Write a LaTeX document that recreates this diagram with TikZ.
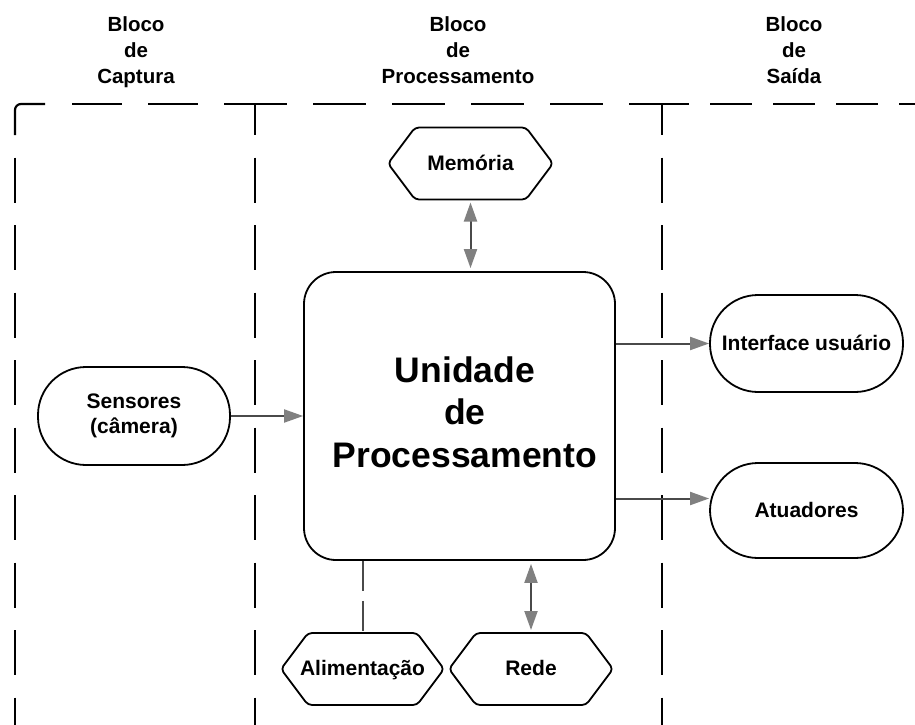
\documentclass[tikz,border=0pt]{standalone}
\usepackage{fontspec}
\setmainfont{Liberation Sans}
\usetikzlibrary{arrows.meta,calc}

\definecolor{linkgray}{HTML}{4A4A4A}
\definecolor{headgray}{HTML}{808080}

% hexagonal frame around a (borderless) node
\newcommand\hexframe[1]{%
  \draw[hexline] (#1.west) -- ($(#1.north west)+(27,0)$) -- ($(#1.north east)+(-27,0)$)
    -- (#1.east) -- ($(#1.south east)+(-27,0)$) -- ($(#1.south west)+(27,0)$) -- cycle;}

\tikzset{
  region/.style={line width=2.2pt, black},
  header/.style={font=\bfseries\fontsize{20.5}{26}\selectfont, align=center, anchor=north, inner sep=0pt},
  boxtext/.style={font=\bfseries\fontsize{21}{25}\selectfont},
  oneline/.style={text height=15.5pt, text depth=2.5pt},
  stadium/.style={draw, line width=1.8pt, rounded corners=48pt, minimum width=193pt,
    minimum height=97pt, inner sep=0pt, boxtext},
  hexslot/.style={minimum height=72pt, inner sep=0pt, outer sep=0pt, boxtext, oneline},
  hexline/.style={draw, line width=1.8pt, rounded corners=4pt, line join=round},
  link/.style={draw=linkgray, line width=2pt},
  >={Triangle[length=19pt,width=13pt,color=headgray]},
}

\begin{document}
\begin{tikzpicture}[x=1pt, y=-1pt]
  \fill[white] (0,0) rectangle (915,725);
  \useasboundingbox (0,0) rectangle (915,725);

  % column headers
  \node[header] (hcap) at (136,16.5) {Bloco\\de\\Captura};
  \node[header] (hproc) at (458,16.5) {Bloco\\de\\Processamento};
  \node[header] (hsai) at (794,16.5) {Bloco\\de\\Saída};

  % block boundaries
  \draw[region, rounded corners=6pt] (15,135) -- (15,104) -- (45,104);
  \draw[region, dash pattern=on 45pt off 22.5pt] (15,157.5) -- (15,725);
  \draw[region, dash pattern=on 45pt off 22.5pt, dash phase=14pt] (255,104) -- (255,725);
  \draw[region, dash pattern=on 45pt off 22.5pt, dash phase=14pt] (662,104) -- (662,725);
  \draw[region, dash pattern=on 50pt off 26pt] (72,104) -- (255,104);
  \draw[region, dash pattern=on 53pt off 26pt, dash phase=21pt] (255,104) -- (662,104);
  \draw[region, dash pattern=on 42pt off 21pt, dash phase=15pt] (662,104) -- (915,104);

  % central processing unit
  \node[draw, line width=1.8pt, rounded corners=32pt, minimum width=311pt, minimum height=288pt,
        inner sep=0pt, font=\bfseries\fontsize{35.5}{42.5}\selectfont] (unit) at (459.5,416)
       {\hspace*{11pt}\raisebox{4pt}{\begin{tabular}{@{}c@{}}Unidade\\de\\Processamento\end{tabular}}};

  % peripherals
  \node[hexslot, minimum width=165pt] (mem) at (470.5,163.5) {Memória};
  \hexframe{mem}
  \node[hexslot, minimum width=163pt] (alim) at (362.5,669) {Alimentação};
  \hexframe{alim}
  \node[hexslot, minimum width=164pt] (rede) at (531,669) {Rede};
  \hexframe{rede}

  \node[stadium, minimum width=192pt, minimum height=98pt] (sens) at (134,416)
       {\begin{tabular}{@{}c@{}}Sensores\\(câmera)\end{tabular}};
  \node[stadium, oneline] (iface) at (806.5,343.5) {Interface usuário};
  \node[stadium, oneline, minimum height=95pt] (atu) at (806.5,510.5) {Atuadores};

  % connections
  \draw[link, ->] (sens.east) -- (sens.east -| unit.west);
  \draw[link, ->] (iface.west -| unit.east) -- (iface.west);
  \draw[link, ->] ([yshift=12pt]atu.west -| unit.east) -- ([yshift=12pt]atu.west);
  \draw[link, <->, shorten <=3pt, shorten >=3pt] (mem.south) -- (mem.south |- unit.north);
  \draw[link, <->, shorten <=3pt, shorten >=3pt] (rede.north) -- (rede.north |- unit.south);
  \draw[link, dash pattern=on 30pt off 10pt] (alim.north |- unit.south) -- (alim.north);
\end{tikzpicture}
\end{document}
